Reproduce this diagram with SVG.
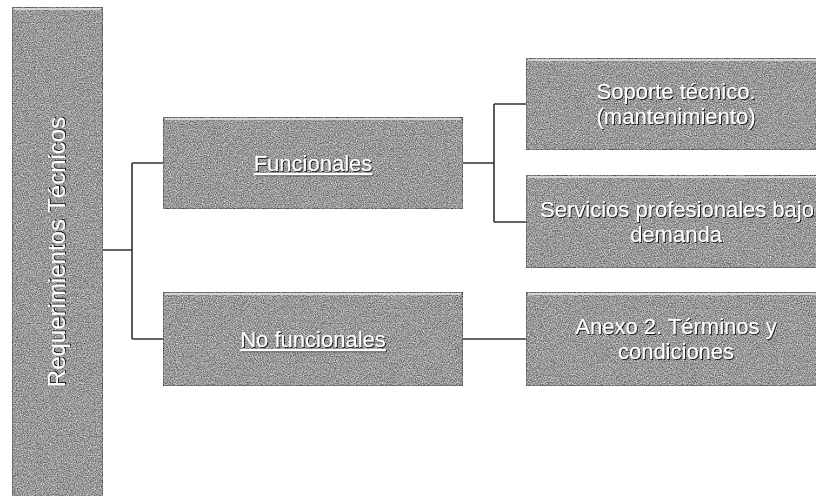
<svg xmlns="http://www.w3.org/2000/svg" width="816" height="496" viewBox="0 0 816 496">
  <defs>
    <filter id="grain" x="0" y="0" width="100%" height="100%" color-interpolation-filters="sRGB">
      <feTurbulence type="fractalNoise" baseFrequency="0.85" numOctaves="2" seed="7" result="n"/>
      <feColorMatrix in="n" type="matrix" values="1 0 0 0 0  1 0 0 0 0  1 0 0 0 0  0 0 0 0 1" result="g"/>
      <feComposite in="SourceGraphic" in2="g" operator="arithmetic" k1="0" k2="1" k3="0.8" k4="-0.4" result="mix"/>
      <feComposite in="mix" in2="SourceGraphic" operator="in"/>
    </filter>
    <filter id="shadow" x="-10%" y="-30%" width="120%" height="160%">
      <feDropShadow dx="1" dy="1" stdDeviation="0.5" flood-color="#1a1a1a" flood-opacity="1"/>
    </filter>
  </defs>
  <style>
    .box { fill: #999999; stroke: #4a4a4a; stroke-width: 1; filter: url(#grain); }
    .hl { stroke: #e2e2e2; stroke-width: 2; fill: none; opacity: 0.8; }
    .lbl { font-family: "Liberation Sans", Arial, sans-serif; font-size: 22px; fill: #ffffff; text-anchor: middle; filter: url(#shadow); }
    .ul { text-decoration: underline; }
    .conn { stroke: #333333; stroke-width: 1.6; fill: none; }
  </style>
  <rect width="816" height="496" fill="#ffffff"/>

  <g id="connectors">
    <path class="conn" d="M103 250 H132 M132 163 V339 M132 163 H163 M132 339 H163"/>
    <path class="conn" d="M463 163 H494 M494 104 V222 M494 104 H526 M494 222 H526"/>
    <path class="conn" d="M463 339 H526"/>
  </g>

  <g id="root">
    <rect class="box" x="12" y="7" width="91" height="495"/>
    <path class="hl" d="M14 9 H101"/>
    <text class="lbl" transform="translate(65 252) rotate(-90)" style="font-size:24px">Requerimientos Técnicos</text>
  </g>

  <g id="funcionales">
    <rect class="box" x="163" y="117" width="300" height="92"/>
    <path class="hl" d="M165 119 H461"/>
    <text class="lbl ul" x="313" y="171">Funcionales</text>
  </g>

  <g id="no-funcionales">
    <rect class="box" x="163" y="292" width="300" height="94"/>
    <path class="hl" d="M165 294 H461"/>
    <text class="lbl ul" x="313" y="347">No funcionales</text>
  </g>

  <g id="soporte">
    <rect class="box" x="526" y="58" width="300" height="92"/>
    <path class="hl" d="M528 60 H816"/>
    <text class="lbl" x="676" y="99">Soporte técnico.</text>
    <text class="lbl" x="676" y="124">(mantenimiento)</text>
  </g>

  <g id="servicios">
    <rect class="box" x="526" y="175" width="300" height="93"/>
    <path class="hl" d="M528 177 H816"/>
    <text class="lbl" x="677" y="217">Servicios profesionales bajo</text>
    <text class="lbl" x="676" y="242">demanda</text>
  </g>

  <g id="anexo">
    <rect class="box" x="526" y="292" width="300" height="94"/>
    <path class="hl" d="M528 294 H816"/>
    <text class="lbl" x="676" y="334">Anexo 2. Términos y</text>
    <text class="lbl" x="676" y="359">condiciones</text>
  </g>
</svg>
